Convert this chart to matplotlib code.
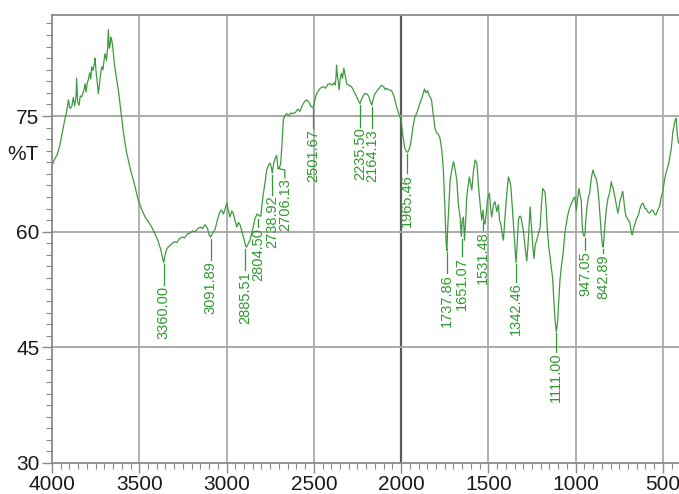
import matplotlib
matplotlib.use("Agg")
import matplotlib.pyplot as plt
from matplotlib.ticker import MultipleLocator

# IR spectrum (wavenumber in cm-1, transmittance in %T)
wavenumber = [
    4000, 3985, 3970, 3955, 3940, 3928, 3916, 3906, 3898, 3887, 3878, 3870, 3862, 3859, 3853,
    3845, 3838, 3830, 3822, 3815, 3811, 3805, 3798, 3792, 3784, 3778, 3773, 3765, 3757, 3754,
    3747, 3740, 3735, 3728, 3722, 3715, 3708, 3702, 3696, 3688, 3682, 3677, 3672, 3668, 3663,
    3658, 3653, 3649, 3644, 3639, 3630, 3620, 3610, 3601, 3592, 3582, 3572, 3563, 3548, 3534,
    3520, 3506, 3488, 3467, 3448, 3429, 3410, 3391, 3376, 3366, 3360, 3352, 3342, 3330, 3315,
    3300, 3285, 3270, 3255, 3240, 3225, 3210, 3195, 3180, 3165, 3150, 3138, 3124, 3110, 3100,
    3092, 3080, 3066, 3055, 3048, 3038, 3030, 3018, 3008, 2999, 2990, 2981, 2970, 2962, 2950,
    2942, 2932, 2923, 2912, 2900, 2890, 2885, 2875, 2866, 2856, 2847, 2837, 2825, 2815, 2804,
    2797, 2790, 2780, 2770, 2760, 2751, 2744, 2738, 2730, 2720, 2713, 2706, 2698, 2690, 2682,
    2675, 2665, 2656, 2642, 2630, 2618, 2604, 2592, 2580, 2566, 2552, 2541, 2528, 2518, 2508,
    2500, 2492, 2484, 2470, 2458, 2445, 2432, 2420, 2408, 2395, 2385, 2378, 2373, 2370, 2366,
    2360, 2355, 2350, 2345, 2341, 2336, 2332, 2328, 2320, 2312, 2300, 2284, 2270, 2255, 2245,
    2236, 2225, 2210, 2198, 2186, 2176, 2168, 2160, 2150, 2140, 2126, 2112, 2100, 2090, 2083,
    2070, 2055, 2040, 2026, 2012, 2000, 1990, 1980, 1970, 1963, 1955, 1945, 1932, 1921, 1910,
    1896, 1885, 1875, 1866, 1858, 1848, 1838, 1826, 1816, 1806, 1796, 1786, 1778, 1767, 1758,
    1748, 1742, 1738, 1733, 1726, 1719, 1710, 1700, 1690, 1681, 1672, 1662, 1655, 1650, 1643,
    1637, 1630, 1624, 1616, 1609, 1602, 1595, 1586, 1576, 1566, 1557, 1548, 1538, 1531, 1525,
    1519, 1512, 1505, 1494, 1487, 1481, 1470, 1462, 1452, 1443, 1436, 1429, 1420, 1414, 1406,
    1399, 1390, 1385, 1378, 1372, 1364, 1357, 1349, 1342, 1335, 1328, 1321, 1315, 1308, 1300,
    1290, 1280, 1271, 1261, 1256, 1252, 1245, 1239, 1231, 1223, 1213, 1204, 1196, 1189, 1182,
    1175, 1168, 1162, 1154, 1147, 1140, 1132, 1125, 1118, 1111, 1104, 1097, 1090, 1082, 1072,
    1062, 1052, 1043, 1034, 1024, 1014, 1005, 996, 988, 981, 974, 968, 963, 958, 952,
    947, 942, 935, 927, 920, 910, 901, 894, 887, 882, 875, 867, 860, 852, 846,
    842, 836, 830, 825, 816, 806, 800, 796, 791, 787, 780, 772, 765, 758, 750,
    744, 739, 734, 730, 724, 717, 710, 703, 697, 691, 686, 680, 676, 670, 664,
    658, 653, 646, 640, 633, 627, 621, 615, 609, 603, 596, 590, 584, 577, 570,
    564, 558, 552, 546, 539, 533, 526, 520, 515, 510, 503, 497, 491, 485, 478,
    472, 466, 460, 453, 448, 443, 438, 434, 429, 424, 420, 416, 411,
]
transmittance = [
    68.6, 69.4, 70.0, 71.2, 73.0, 74.4, 75.6, 77.1, 76.0, 76.2, 77.4, 76.3, 77.6, 79.9, 76.8,
    76.4, 77.6, 77.5, 78.0, 78.6, 79.2, 78.1, 79.3, 79.7, 80.6, 79.8, 81.4, 80.9, 81.8, 82.5,
    80.6, 79.2, 77.9, 79.1, 80.4, 81.4, 81.0, 82.2, 83.1, 82.2, 83.7, 86.2, 83.8, 84.0, 85.2,
    84.9, 84.1, 83.3, 82.0, 81.2, 79.8, 78.4, 76.5, 74.9, 73.1, 71.5, 70.2, 69.3, 67.8, 66.7,
    65.4, 64.1, 63.0, 61.9, 61.3, 60.6, 59.7, 58.7, 57.6, 56.5, 56.0, 57.0, 57.8, 58.1, 58.4,
    58.7, 58.6, 59.1, 59.3, 59.2, 59.7, 59.8, 60.1, 60.0, 60.4, 60.6, 60.4, 60.9, 60.5, 59.6,
    59.3, 59.8, 60.3, 61.3, 61.9, 62.6, 62.8, 62.3, 63.0, 63.7, 62.8, 61.9, 62.7, 62.4, 61.3,
    60.6, 61.2, 60.9, 60.0, 59.0, 58.1, 58.0, 58.5, 58.9, 59.8, 60.6, 61.7, 62.3, 62.1, 62.0,
    63.5, 64.8, 66.3, 68.0, 68.6, 68.9, 68.4, 67.6, 68.9, 69.6, 69.9, 68.4, 68.2, 68.8, 71.5,
    74.5, 75.1, 75.3, 75.1, 75.4, 75.3, 75.5, 75.9, 75.6, 76.4, 76.9, 77.1, 76.8, 76.3, 76.1,
    76.3, 77.3, 77.9, 78.4, 78.7, 78.8, 78.6, 79.1, 79.2, 79.0, 79.3, 79.0, 80.0, 81.6, 80.4,
    79.4, 78.4, 79.6, 80.3, 80.5, 79.9, 80.6, 81.2, 80.2, 79.2, 79.0, 78.8, 78.2, 77.5, 77.0,
    76.6, 77.3, 77.9, 77.9, 77.6, 76.9, 76.4, 77.2, 77.9, 78.2, 78.6, 79.0, 78.8, 78.4, 78.6,
    78.4, 78.3, 77.5, 76.2, 75.2, 74.5, 72.5, 70.9, 70.4, 70.3, 70.6, 71.5, 73.6, 74.9, 75.4,
    76.4, 77.1, 77.8, 78.5, 78.0, 78.3, 77.6, 77.1, 75.2, 73.4, 72.8, 72.6, 72.2, 70.6, 68.0,
    62.4, 58.5, 57.5, 60.5, 63.5, 66.7, 68.0, 69.1, 68.0, 66.7, 63.5, 61.9, 59.4, 61.5, 61.9,
    58.9, 61.5, 64.5, 66.0, 67.1, 66.2, 65.4, 67.8, 69.3, 68.9, 66.0, 63.7, 61.5, 62.8, 61.2,
    61.0, 62.5, 64.2, 65.0, 63.0, 61.9, 63.6, 63.9, 62.6, 63.5, 61.5, 61.0, 59.6, 58.9, 61.5,
    63.7, 66.0, 67.1, 66.6, 66.0, 63.5, 61.1, 58.5, 56.0, 58.5, 61.5, 62.0, 62.0, 61.2, 60.2,
    58.0, 56.2, 59.0, 63.2, 61.5, 60.2, 58.0, 56.5, 58.4, 58.9, 59.8, 60.5, 63.5, 65.6, 65.4,
    65.0, 62.8, 60.2, 58.0, 56.8, 55.4, 54.0, 51.0, 48.5, 47.0, 48.2, 51.0, 53.7, 55.5, 57.2,
    59.8, 61.3, 62.4, 63.1, 63.7, 64.2, 64.5, 62.8, 64.5, 65.6, 64.6, 64.1, 61.0, 59.8, 59.4,
    59.6, 61.5, 63.2, 64.5, 65.0, 67.0, 68.0, 67.5, 67.0, 66.9, 66.0, 64.1, 62.0, 59.5, 58.2,
    58.0, 59.8, 61.5, 62.8, 64.2, 65.0, 65.8, 66.5, 65.9, 65.8, 65.0, 64.1, 63.2, 62.4, 63.4,
    64.2, 64.5, 65.0, 65.2, 64.0, 62.6, 61.9, 61.7, 61.4, 61.3, 60.6, 59.8, 59.6, 60.2, 60.8,
    61.1, 61.6, 61.9, 62.2, 62.9, 63.3, 63.6, 63.7, 63.4, 63.0, 63.0, 62.7, 62.5, 62.4, 62.6,
    62.8, 62.8, 62.5, 62.2, 62.2, 62.6, 63.0, 63.2, 63.8, 64.5, 65.0, 65.8, 66.7, 67.4, 68.0,
    68.4, 69.0, 69.8, 70.6, 71.8, 73.0, 73.5, 74.1, 74.5, 74.7, 73.2, 72.2, 71.5,
]

# labelled bands: label text, minimum %T of the band
peak_labels = ["3360.00", "3091.89", "2885.51", "2804.50", "2738.92", "2706.13",
               "2501.67", "2235.50", "2164.13", "1965.46", "1737.86", "1651.07",
               "1531.48", "1342.46", "1111.00", "947.05", "842.89"]
peak_wn = [float(s) for s in peak_labels]
peak_t = [56.0, 59.3, 58.0, 61.9, 67.6, 68.4, 76.2, 76.6, 76.4, 70.3,
          57.5, 59.2, 61.5, 56.0, 47.0, 59.4, 58.0]

# label placement: x of the label (cm-1) and where its text starts (top end, %T)
label_x = [3360, 3092, 2895, 2818, 2740, 2666, 2502, 2236, 2164, 1965,
           1738, 1651, 1531, 1342, 1111, 947, 843]
label_top = [53.1, 56.3, 55.0, 60.6, 64.8, 67.0, 73.4, 73.6, 73.4, 67.6,
             54.6, 56.8, 60.2, 53.5, 44.4, 57.6, 57.2]

line_green = "#3f9a3f"
text_green = "#2f9a2f"
grid_gray = "#ababab"

fig = plt.figure(figsize=(6.79, 4.94), dpi=100)
ax = fig.add_axes([0.0766, 0.0628, 0.9234, 0.9068])

ax.set_xlim(4000, 408)
ax.set_ylim(30, 88.1)

# grid
for xv in [3500, 3000, 2500, 1500, 1000, 500]:
    ax.axvline(xv, color=grid_gray, lw=1.3, zorder=0)
ax.axvline(2000, color="#5a5a5a", lw=1.6, zorder=0)
for yv in [45, 60, 75]:
    ax.axhline(yv, color=grid_gray, lw=1.4, zorder=0)

ax.plot(wavenumber, transmittance, color=line_green, lw=0.9, zorder=2)

for lab, wn, tp, lx, tt in zip(peak_labels, peak_wn, peak_t, label_x, label_top):
    if abs(lx - wn) > 15:
        # slanted leader when the label sits beside the band
        ax.plot([wn, lx, lx], [tp - 0.2, tt + 1.0, tt], color=text_green, lw=0.9, zorder=2)
    else:
        ax.plot([lx, lx], [tp - 0.2, tt], color=text_green, lw=0.9, zorder=2)
    ax.text(lx, tt - 0.1, lab, rotation=90, ha="center", va="top",
            fontsize=10.5, color=text_green, family=["Liberation Sans", "DejaVu Sans"])

# axes frame
ax.spines["right"].set_visible(False)
for side in ["left", "bottom", "top"]:
    ax.spines[side].set_color("#8a8a8a")
    ax.spines[side].set_linewidth(1.3)

ax.xaxis.set_major_locator(MultipleLocator(500))
ax.xaxis.set_minor_locator(MultipleLocator(50))
ax.yaxis.set_major_locator(MultipleLocator(15))
ax.yaxis.set_minor_locator(MultipleLocator(1.5))
ax.tick_params(axis="both", which="major", direction="out", length=7, width=1,
               color="#8a8a8a", labelsize=15, labelcolor="#1a1a1a", pad=2)
ax.tick_params(axis="both", which="minor", direction="out", length=4, width=0.8,
               color="#8a8a8a")
for lbl in ax.get_xticklabels() + ax.get_yticklabels():
    lbl.set_family(["Liberation Sans Narrow", "Liberation Sans"])

ax.text(-0.022, 70, "%T", transform=ax.get_yaxis_transform(), ha="right", va="center",
        fontsize=15, color="#1a1a1a", family=["Liberation Sans Narrow", "Liberation Sans"])

fig.savefig("out.png", dpi=100)
